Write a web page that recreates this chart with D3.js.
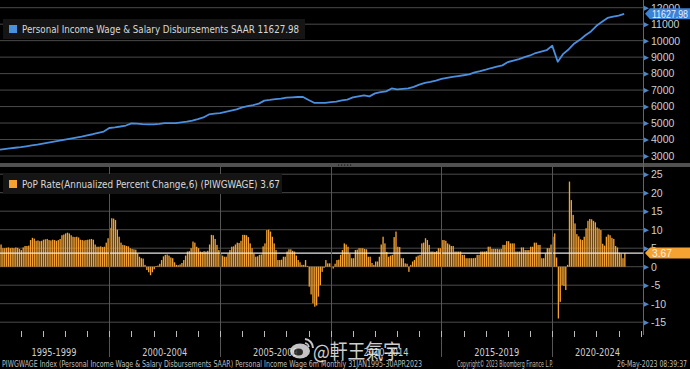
<!DOCTYPE html>
<html>
<head>
<meta charset="utf-8">
<script src="https://cdn.jsdelivr.net/npm/d3@7"></script>
<style>
  body { margin: 0; background: #000; }
  svg { display: block; }
  text { font-family: "DejaVu Sans Condensed", "Liberation Sans", sans-serif; }
</style>
</head>
<body>
<svg id="chart"></svg>
<script>
// ---- data ----
// wage & salary level, quarterly points (Jan, Apr, Jul, Oct), from Jan 1995
const wageLevel = [
  3380, 3420, 3460, 3500,   // 1995
  3540, 3590, 3640, 3690,   // 1996
  3750, 3810, 3870, 3930,   // 1997
  4000, 4060, 4120, 4180,   // 1998
  4250, 4320, 4400, 4480,   // 1999
  4700, 4740, 4790, 4850,   // 2000
  4980, 4960, 4930, 4920,   // 2001
  4920, 4950, 4990, 5000,   // 2002
  5000, 5040, 5080, 5150,   // 2003
  5240, 5340, 5520, 5570,   // 2004
  5600, 5680, 5760, 5830,   // 2005
  5950, 6030, 6090, 6180,   // 2006
  6360, 6400, 6450, 6480,   // 2007
  6540, 6560, 6580, 6580,   // 2008
  6400, 6230, 6220, 6230,   // 2009
  6270, 6300, 6380, 6420,   // 2010
  6560, 6620, 6680, 6620,   // 2011
  6800, 6880, 6920, 7100,   // 2012
  7040, 7070, 7100, 7200,   // 2013
  7330, 7440, 7500, 7580,   // 2014
  7680, 7740, 7800, 7850,   // 2015
  7900, 7950, 8070, 8150,   // 2016
  8240, 8340, 8420, 8500,   // 2017
  8700, 8790, 8880, 9000,   // 2018
  9100, 9250, 9340, 9420,   // 2019
  9700, 8720, 9200, 9480,   // 2020
  9830, 10050, 10330, 10560, // 2021
  10900, 11150, 11380, 11460, // 2022
  11520, 11627.98            // 2023
];

// 6m annualized percent change, monthly from Jan 1995
const popRate = [
  6.3, 6.0, 5.0, 5.0, 5.1, 5.2, 5.0, 5.1, 5.0, 5.2, 5.1, 4.8,       // 1995
  4.5, 5.2, 5.6, 5.6, 5.7, 7.2, 7.8, 7.6, 7.0, 7.1, 6.9, 7.0,       // 1996
  7.3, 7.4, 7.5, 7.2, 7.1, 7.3, 7.2, 7.0, 7.2, 7.5, 8.5, 8.7,       // 1997
  9.0, 9.2, 9.0, 8.5, 8.1, 8.0, 8.1, 7.9, 7.3, 7.2, 7.1, 7.2,       // 1998
  7.3, 7.4, 7.5, 7.3, 6.0, 5.4, 5.4, 5.5, 5.3, 5.4, 6.5, 7.7,       // 1999
  10.5, 13.1, 13.0, 12.6, 10.0, 8.1, 6.5, 5.9, 5.8, 5.6, 5.5, 5.0,  // 2000
  4.8, 4.7, 4.6, 3.5, 2.7, 2.3, 2.2, 0.5, -0.9, -1.5, -2.3, -1.5,   // 2001
  -0.7, 0.2, 0.3, 0.8, 1.8, 2.8, 3.2, 3.3, 3.0, 2.5, 2.3, 1.2,      // 2002
  0.5, 0.4, 0.6, 1.0, 1.8, 3.0, 4.1, 4.2, 5.0, 6.8, 6.5, 5.4,       // 2003
  5.0, 4.1, 4.0, 4.2, 4.1, 4.3, 6.0, 8.6, 8.5, 7.5, 5.9, 4.5,       // 2004
  3.6, 3.0, 2.7, 2.7, 3.5, 4.5, 5.4, 5.5, 6.0, 6.5, 6.4, 7.0,       // 2005
  8.6, 8.6, 8.5, 8.0, 6.3, 5.0, 3.5, 2.7, 2.8, 3.2, 3.3, 5.5,       // 2006
  6.3, 9.9, 10.0, 9.5, 8.1, 6.3, 4.5, 1.8, 1.8, 1.9, 2.7, 2.7,      // 2007
  4.1, 4.7, 4.7, 4.3, 4.1, 3.0, 1.8, 1.2, 0.5, 0.5, 1.8, 0.2,       // 2008
  -5.4, -7.5, -9.9, -10.8, -10.5, -8.1, -5.0, -1.4, -0.3, 1.8, 0.9, 0.9, // 2009
  0.9, -0.5, 0.8, 1.8, 1.9, 3.2, 4.5, 6.3, 6.0, 5.4, 3.5, 2.3,      // 2010
  2.3, 4.5, 4.6, 5.0, 5.0, 5.0, 4.8, 4.7, 2.7, 2.7, 1.0, 0.5,       // 2011
  1.4, 1.4, 2.7, 6.0, 8.1, 6.3, 4.0, 2.7, 3.0, 3.2, 8.0, 9.5,       // 2012
  5.4, 5.3, 2.3, 2.3, 0.9, 0.8, -1.4, 0.5, 1.4, 1.8, 2.7, 3.0,      // 2013
  3.2, 6.3, 6.5, 7.7, 7.2, 5.9, 4.1, 4.1, 4.0, 4.2, 5.0, 5.0,       // 2014
  7.2, 7.2, 7.0, 6.3, 6.0, 5.6, 5.6, 4.1, 4.1, 4.1, 4.1, 3.2,       // 2015
  3.2, 2.3, 2.3, 2.3, 2.3, 2.3, 2.4, 3.2, 3.2, 4.1, 4.1, 4.1,       // 2016
  4.2, 5.4, 5.4, 4.8, 4.8, 4.8, 4.8, 4.7, 4.8, 5.9, 5.9, 6.9,       // 2017
  6.9, 6.3, 6.3, 6.3, 4.1, 4.1, 4.1, 5.2, 5.2, 4.5, 4.5, 4.5,       // 2018
  5.4, 5.4, 6.5, 6.5, 5.9, 5.9, 2.3, 2.3, 3.6, 5.0, 5.0, 6.0,       // 2019
  8.1, 9.0, 2.5, -14.0, -9.5, -5.0, -5.2, -6.3, 0.5, 23.0, 18.0, 14.0, // 2020
  11.7, 8.8, 8.2, 7.4, 7.2, 8.1, 10.4, 12.4, 12.9, 12.8, 12.4, 12.0, // 2021
  10.6, 10.3, 9.9, 6.2, 5.7, 8.1, 8.7, 8.5, 7.8, 7.5, 5.6, 5.2,     // 2022
  3.8, 3.5, 2.3, 3.67                                               // 2023
];

const levelTicks = [3000, 4000, 5000, 6000, 7000, 8000, 9000, 10000, 11000, 12000];
const rateTicks = [25, 20, 15, 10, 5, 0, -5, -10, -15];
const periodStarts = [1995, 2000, 2005, 2010, 2015, 2020];
const periodLabels = ["1995-1999", "2000-2004", "2005-2009", "2010-2014", "2015-2019", "2020-2024"];
const lastLevel = 11627.98;
const lastRate = 3.67;

const topLegend = "Personal Income Wage & Salary Disbursements SAAR 11627.98";
const bottomLegend = "PoP Rate(Annualized Percent Change,6) (PIWGWAGE) 3.67";
const footerLeft = "PIWGWAGE Index (Personal Income Wage & Salary Disbursements SAAR) Personal Income Wage 6m  Monthly 31JAN1995-30APR2023";
const footerMid = "Copyright\u00A9 2023 Bloomberg Finance L.P.";
const footerRight = "26-May-2023 08:39:37";
const watermark = "@軒王氣宇";

// ---- layout ----
const W = 690, H = 369;
const axisX = 643;
const topPanel = { y0: 0, y1: 163 };
const botPanel = { y0: 167, y1: 333 };

const blue = "#4a8fe0";
const orange = "#f5a232";
const gridCol = "#4a4a4a";
const labelCol = "#cfcfcf";

const svg = d3.select("#chart").attr("width", W).attr("height", H);
svg.append("rect").attr("width", W).attr("height", H).attr("fill", "#000");

const x = d3.scaleLinear().domain([1995, 2024.1]).range([-1.45, axisX]);
const yTop = d3.scaleLinear().domain([3000, 12000]).range([156, 7.7]);
const yBot = d3.scaleLinear().domain([-15, 25]).range([322.2, 174.2]);

const defs = svg.append("defs");
defs.append("clipPath").attr("id", "clipTop").append("rect")
  .attr("x", 0).attr("y", topPanel.y0).attr("width", axisX).attr("height", topPanel.y1 - topPanel.y0);
defs.append("clipPath").attr("id", "clipBot").append("rect")
  .attr("x", 0).attr("y", botPanel.y0).attr("width", axisX).attr("height", botPanel.y1 - botPanel.y0);

// ---- top panel ----
const gTop = svg.append("g");
gTop.selectAll(".grid").data(levelTicks).enter().append("line")
  .attr("x1", 0).attr("x2", axisX)
  .attr("y1", d => yTop(d)).attr("y2", d => yTop(d))
  .attr("stroke", gridCol).attr("stroke-width", 1);

const line = d3.line()
  .x((d, i) => x(1995 + i * 0.25))
  .y(d => yTop(d));

gTop.append("path")
  .datum(wageLevel)
  .attr("clip-path", "url(#clipTop)")
  .attr("d", line)
  .attr("fill", "none")
  .attr("stroke", blue)
  .attr("stroke-width", 1.8)
  .attr("stroke-linejoin", "round");

// ---- bottom panel ----
const gBot = svg.append("g");
gBot.selectAll(".grid").data(rateTicks).enter().append("line")
  .attr("x1", 0).attr("x2", axisX)
  .attr("y1", d => yBot(d)).attr("y2", d => yBot(d))
  .attr("stroke", gridCol).attr("stroke-width", 1);

// five-year separators (through bottom panel and label band)
svg.selectAll(".sep").data(periodStarts.slice(1)).enter().append("line")
  .attr("x1", d => Math.round(x(d)) + 0.5).attr("x2", d => Math.round(x(d)) + 0.5)
  .attr("y1", botPanel.y0).attr("y2", 357)
  .attr("stroke", "#555").attr("stroke-width", 1);

const step = x(1995 + 1 / 12) - x(1995);
gBot.append("g").attr("clip-path", "url(#clipBot)")
  .selectAll("rect").data(popRate).enter().append("rect")
  .attr("x", (d, i) => x(1995 + i / 12))
  .attr("width", step * 0.72)
  .attr("y", d => yBot(Math.max(0, d)))
  .attr("height", d => Math.abs(yBot(d) - yBot(0)))
  .attr("fill", orange);

// last value line
gBot.append("line")
  .attr("x1", 0).attr("x2", axisX)
  .attr("y1", yBot(lastRate)).attr("y2", yBot(lastRate))
  .attr("stroke", "#e8e8e8").attr("stroke-width", 1.2);

// ---- separator between panels ----
svg.append("rect").attr("x", 0).attr("y", 163).attr("width", W).attr("height", 4).attr("fill", "#505050");
svg.selectAll(".dot").data([-6, -3, 0, 3, 6]).enter().append("rect")
  .attr("x", d => 344 + d).attr("y", 164.5).attr("width", 1.2).attr("height", 1.2).attr("fill", "#1a1a1a");

// ---- right axis ----
svg.append("line").attr("x1", axisX + 0.5).attr("x2", axisX + 0.5).attr("y1", 0).attr("y2", botPanel.y1 + 2)
  .attr("stroke", "#3f6ea6").attr("stroke-width", 1);

function drawAxis(scale, ticks, g) {
  const ax = d3.axisRight(scale).tickValues(ticks).tickSize(0).tickPadding(8)
    .tickFormat(d => String(d));
  g.attr("transform", `translate(${axisX},0)`).call(ax);
  g.select(".domain").remove();
  g.selectAll("text").attr("fill", labelCol)
    .style("font-size", "10.5px")
    .style("font-family", '"Liberation Sans", sans-serif');
  g.selectAll(".tick").append("path")
    .attr("d", "M1,-2.5L6,0L1,2.5Z").attr("fill", "#4f86c6");
}
drawAxis(yTop, levelTicks, svg.append("g"));
drawAxis(yBot, rateTicks, svg.append("g"));

// last-value tags
function tag(yv, fill, txt, txtCol, tl) {
  const g = svg.append("g").attr("transform", `translate(${axisX + 2},${yv})`);
  g.append("path")
    .attr("d", "M0,0L5,-5.5H45V5.5H5Z")
    .attr("fill", fill);
  g.append("text").attr("x", 7).attr("y", 4).text(txt)
    .attr("fill", txtCol)
    .style("font-size", "10.5px")
    .style("font-family", '"Liberation Sans", sans-serif')
    .attr("textLength", tl).attr("lengthAdjust", "spacingAndGlyphs");
}
tag(yTop(lastLevel), "#3b82d6", "11627.98", "#e6efff", 36);
tag(yBot(lastRate), orange, "3.67", "#fff3e2", 20);

// ---- legends ----
function legend(y, w, col, txt, tl) {
  const g = svg.append("g");
  g.append("rect").attr("x", 3).attr("y", y).attr("width", w).attr("height", 20).attr("fill", "#151515");
  g.append("rect").attr("x", 9).attr("y", y + 6).attr("width", 8).attr("height", 8).attr("fill", col);
  g.append("text").attr("x", 22).attr("y", y + 14).text(txt)
    .attr("fill", "#d8d8d8").style("font-size", "11px")
    .attr("textLength", tl).attr("lengthAdjust", "spacingAndGlyphs");
}
legend(19, 302, blue, topLegend, 277);
legend(174, 279, orange, bottomLegend, 258);

// ---- x axis ----
const years = d3.range(1996, 2025);
svg.append("g").selectAll("line").data(years).enter().append("line")
  .attr("x1", d => Math.round(x(d)) + 0.5).attr("x2", d => Math.round(x(d)) + 0.5)
  .attr("y1", 331).attr("y2", 337)
  .attr("stroke", "#bbb").attr("stroke-width", 1);

svg.append("g").selectAll("text").data(periodStarts).enter().append("text")
  .attr("x", d => (x(d) + Math.min(x(d + 5), axisX)) / 2 - 22.5)
  .attr("y", 356)
  .attr("fill", labelCol)
  .style("font-size", "11px")
  .attr("textLength", 45).attr("lengthAdjust", "spacingAndGlyphs")
  .text((d, i) => periodLabels[i]);

// ---- footer ----
const foot = svg.append("g").attr("fill", "#bdbdbd").style("font-size", "8px");
foot.append("text").attr("x", 2).attr("y", 366.5).text(footerLeft)
  .attr("textLength", 420).attr("lengthAdjust", "spacingAndGlyphs");
foot.append("text").attr("x", 457).attr("y", 366.5).text(footerMid)
  .attr("textLength", 96).attr("lengthAdjust", "spacingAndGlyphs");
foot.append("text").attr("x", 617).attr("y", 366.5).text(footerRight)
  .attr("textLength", 70).attr("lengthAdjust", "spacingAndGlyphs");

// ---- watermark ----
const wm = svg.append("g").attr("opacity", 0.85);
wm.append("ellipse").attr("cx", 300).attr("cy", 351).attr("rx", 10).attr("ry", 7.5).attr("fill", "#e6e6e6");
wm.append("ellipse").attr("cx", 298.5).attr("cy", 352).attr("rx", 4.5).attr("ry", 3.5).attr("fill", "#333");
wm.append("path").attr("d", "M305,339 A9,9 0 0 1 313,348").attr("fill", "none").attr("stroke", "#e6e6e6").attr("stroke-width", 2);
wm.append("path").attr("d", "M305,343 A5,5 0 0 1 309,347").attr("fill", "none").attr("stroke", "#e6e6e6").attr("stroke-width", 1.6);
wm.append("text").attr("x", 313).attr("y", 359).text(watermark)
  .attr("fill", "#f2f2f2")
  .style("font-family", '"Noto Sans CJK TC", "Noto Sans CJK SC", sans-serif')
  .style("font-size", "20px")
  .attr("textLength", 88).attr("lengthAdjust", "spacingAndGlyphs");
</script>
</body>
</html>
